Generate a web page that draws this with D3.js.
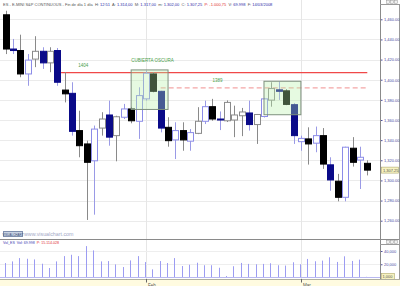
<!DOCTYPE html>
<html>
<head>
<meta charset="utf-8">
<script src="https://cdn.jsdelivr.net/npm/d3@7"></script>
<style>
  html, body { margin: 0; padding: 0; background: #fff; }
  svg { display: block; font-family: "Liberation Sans", Arial, sans-serif; }
</style>
</head>
<body>
<div id="chart"></div>
<script>
// ES daily candles, Jan 7 - Mar 14 2008
const dates = [
  '2008-01-07','2008-01-08','2008-01-09','2008-01-10','2008-01-11','2008-01-14','2008-01-15','2008-01-16','2008-01-17','2008-01-18',
  '2008-01-21','2008-01-22','2008-01-23','2008-01-24','2008-01-25','2008-01-28','2008-01-29','2008-01-30','2008-01-31',
  '2008-02-01','2008-02-04','2008-02-05','2008-02-06','2008-02-07','2008-02-08','2008-02-11','2008-02-12','2008-02-13','2008-02-14','2008-02-15',
  '2008-02-18','2008-02-19','2008-02-20','2008-02-21','2008-02-22','2008-02-25','2008-02-26','2008-02-27','2008-02-28','2008-02-29',
  '2008-03-03','2008-03-04','2008-03-05','2008-03-06','2008-03-07','2008-03-10','2008-03-11','2008-03-12','2008-03-13','2008-03-14'
];
const opens = [1461.5,1427.5,1426,1402.75,1417.5,1425.25,1413.75,1426,1386.75,1383.5,
  1346.5,1333.25,1316.5,1349,1362,1341.5,1359.75,1368,1355.75,1378,
  1402.75,1385.5,1349.75,1337.25,1346.5,1336,1343.75,1355.75,1370.25,1358,
  1356.25,1357,1361.25,1364,1352.5,1360.5,1376.75,1387,1386,1372.25,
  1335.5,1338.25,1334,1341.5,1312.5,1296.25,1280.25,1329,1317.25,1314];
const highs = [1465.5,1437.5,1441.75,1422.5,1440.25,1429.25,1429.25,1428.5,1404.5,1394.5,
  1366.25,1336.5,1351.5,1364.75,1376.25,1361.25,1373,1370,1389.5,1406,
  1404.5,1386,1359.75,1354.75,1354.75,1348,1369.75,1376.25,1378,1365.5,
  1376.5,1371.25,1369,1376.25,1363,1379,1394.5,1395.25,1387.75,1373.75,
  1341.5,1349.75,1350.5,1349,1320,1303.5,1330.5,1340,1330.5,1317];
const lows = [1422.5,1422.5,1399.5,1391,1409.5,1407.75,1404.5,1391,1374.5,1341.5,
  1320,1257.75,1263,1341.5,1331.5,1316,1358,1353.75,1338.25,1376.25,
  1384.5,1344.75,1330.5,1318.25,1326.5,1326.5,1343,1353,1356.25,1347,
  1355,1340,1341,1346.5,1333.25,1359.5,1370.25,1377,1371.75,1333.25,
  1326.5,1312.75,1325,1308.5,1286.75,1276.25,1276.25,1310.75,1288.5,1302];
const closes = [1427.5,1426,1402.75,1416.5,1425.25,1413.75,1425.25,1394.5,1383,1345.75,
  1331.5,1315,1348,1358,1340,1360.25,1368,1356.25,1381.25,1403.5,
  1385.5,1349,1336.5,1346.5,1337.25,1344.5,1355.75,1370.25,1358,1357,
  1374.5,1362,1365,1352.5,1362.5,1378,1388.25,1385.5,1372.5,1341.5,
  1338.75,1333.25,1341.5,1313.25,1297.5,1280.25,1330,1315,1320,1307.25];
// candle colouring as drawn by the platform: k=black, n=navy, g=hollow grey, b=hollow blue
const kinds = ['k','n','k','b','g','n','g','n','k','n',
  'k','k','b','g','n','g','b','k','b','b',
  'k','n','k','b','k','b','g','b','k','n',
  'g','g','g','n','g','b','g','n','k','n',
  'b','k','b','k','n','k','b','k','b','k'];
const volumes = [21800,24300,29300,28300,27300,20800,14300,24300,32300,34300,
  32300,47400,40900,24300,24800,19800,15800,25800,32300,23300,
  12300,24800,21800,29300,17300,19300,22300,18500,18500,14700,
  2200,17000,22000,20500,20000,20500,21500,18500,18000,23000,
  20000,28000,24500,25500,30500,23500,32000,25000,27000,1000];

const priceTicks = [1260,1280,1300,1320,1340,1360,1380,1400,1420,1440,1460];
const volTicks = [20000, 40000];

// horizontal levels (value, from / to candle index, label position)
const levelValues = [1404, 1389];
const levelLabels = ['1404', '1389'];
const levelFrom = [7.5, 21];
const levelTo = [49, 49];
const levelLabelAt = [10.5, 28.7];
const levelDashed = [false, true];

// pattern boxes
const boxNames = ['CUBIERTA OSCURA', ''];
const boxFrom = [17, 35];
const boxTo = [22, 40];
const boxTop = [1406.75, 1395.5];
const boxBottom = [1367.5, 1362.25];

const headerParts = [
  ['ES - E-MINI S&P CONTINUOUS - Fin de día 1 día  H: ', '#555'], ['12:51', '#2a2aa8'],
  ['  A: ', '#555'], ['1.314,00', '#2a2aa8'], ['  M: ', '#555'], ['1.317,00', '#2a2aa8'],
  ['  m: ', '#555'], ['1.302,00', '#2a2aa8'], ['  C: ', '#555'], ['1.307,25', '#2a2aa8'],
  ['  P: -1.000,75', '#e03030'], ['  V: ', '#555'], ['69.998', '#2a2aa8'],
  ['  F: ', '#555'], ['14/03/2008', '#2a2aa8']
];
const volHeaderParts = [['Vol_ES  Vol: ', '#3a3ab0'], ['69.998', '#3a3ab0'], ['  P: 15.114.028', '#e03030']];

const W = 400, H = 286;
const axisX = 380;
const mainBottom = 239.5, volBottom = 277.5, stripTop = 279;

const svg = d3.select('#chart').append('svg').attr('width', W).attr('height', H);
svg.append('rect').attr('width', W).attr('height', H).attr('fill', '#fff');

const parse = d3.timeParse('%Y-%m-%d');
const days = dates.map(parse);

const x = d3.scaleLinear().domain([0, dates.length - 1]).range([5.7, 367.3]);
const y = d3.scaleLinear().domain([1260, 1460]).range([217.7, 16.3]);
const gridShift = 3; // platform draws its grid a few px under the price
const yv = d3.scaleLinear().domain([0, 40000]).range([volBottom, 251]);

// month starts
const monthIdx = [];
days.forEach((d, i) => { if (i > 0 && d.getMonth() !== days[i - 1].getMonth()) monthIdx.push(i); });

// grid
const grid = svg.append('g');
grid.selectAll('line.h').data(priceTicks).join('line')
  .attr('x1', 0).attr('x2', axisX)
  .attr('y1', d => Math.round(y(d) + gridShift) + 0.5).attr('y2', d => Math.round(y(d) + gridShift) + 0.5)
  .attr('stroke', '#ebebeb');
grid.selectAll('line.v').data(monthIdx).join('line')
  .attr('x1', d => Math.round(x(d)) + 0.5).attr('x2', d => Math.round(x(d)) + 0.5)
  .attr('y1', 0).attr('y2', stripTop)
  .attr('stroke', '#e6e6e6');
grid.selectAll('line.vg').data(volTicks).join('line')
  .attr('x1', 0).attr('x2', axisX)
  .attr('y1', d => Math.round(yv(d)) + 0.5).attr('y2', d => Math.round(yv(d)) + 0.5)
  .attr('stroke', '#eeeeee');

// header
const hdr = svg.append('text').attr('x', 3).attr('y', 5.5).attr('font-size', 4);
headerParts.forEach(p => hdr.append('tspan').attr('fill', p[1]).attr('xml:space', 'preserve').text(p[0]));

// levels
const lv = svg.append('g');
levelValues.forEach((v, i) => {
  lv.append('line')
    .attr('x1', x(levelFrom[i])).attr('x2', x(levelTo[i]))
    .attr('y1', y(v)).attr('y2', y(v))
    .attr('stroke', levelDashed[i] ? '#f4a6a6' : '#f04848')
    .attr('stroke-width', 1.3)
    .attr('stroke-dasharray', levelDashed[i] ? '5,3' : null);
  lv.append('text')
    .attr('x', x(levelLabelAt[i])).attr('y', y(v) - 6)
    .attr('text-anchor', 'middle').attr('font-size', 4.5).attr('fill', '#4aa04a')
    .text(levelLabels[i]);
});

// candles
const colors = {
  k: { fill: '#000', stroke: '#000', wick: '#8a8a8a' },
  n: { fill: '#0a0a88', stroke: '#0a0a88', wick: '#9a9ae6' },
  g: { fill: '#fff', stroke: '#8a8a8a', wick: '#8a8a8a' },
  b: { fill: '#fff', stroke: '#8c8ce8', wick: '#9a9ae6' }
};
const bodyW = 6;
const candles = svg.append('g').selectAll('g').data(dates.map((d, i) => i)).join('g');
candles.append('line')
  .attr('x1', i => Math.round(x(i)) + 0.5).attr('x2', i => Math.round(x(i)) + 0.5)
  .attr('y1', i => y(highs[i])).attr('y2', i => y(lows[i]))
  .attr('stroke', i => colors[kinds[i]].wick);
candles.append('rect')
  .attr('x', i => Math.round(x(i)) - bodyW / 2 + 0.5)
  .attr('width', bodyW)
  .attr('y', i => y(Math.max(opens[i], closes[i])))
  .attr('height', i => Math.max(1, Math.abs(y(opens[i]) - y(closes[i]))))
  .attr('fill', i => colors[kinds[i]].fill)
  .attr('stroke', i => colors[kinds[i]].stroke);

// pattern boxes
const bx = svg.append('g');
boxNames.forEach((name, i) => {
  bx.append('rect')
    .attr('x', x(boxFrom[i])).attr('width', x(boxTo[i]) - x(boxFrom[i]))
    .attr('y', y(boxTop[i])).attr('height', y(boxBottom[i]) - y(boxTop[i]))
    .attr('fill', '#b8f0a8').attr('fill-opacity', 0.35)
    .attr('stroke', '#7d8f7d');
  if (name) {
    bx.append('text')
      .attr('x', x(boxFrom[i])).attr('y', y(boxTop[i]) - 7.5)
      .attr('font-size', 4.5).attr('fill', '#4aa04a').text(name);
  }
});

// watermark
svg.append('rect').attr('x', 3.5).attr('y', 231.5).attr('width', 19).attr('height', 5)
  .attr('fill', '#c9d3e3').attr('stroke', '#7f8fae');
svg.append('text').attr('x', 13).attr('y', 235.5).attr('text-anchor', 'middle')
  .attr('font-size', 3).attr('fill', '#3b4b7b').text('VISUALCHART');
svg.append('text').attr('x', 24).attr('y', 236.3).attr('font-size', 5.3)
  .attr('fill', '#a2a8c6').text('www.visualchart.com');

// panel borders
svg.append('line').attr('x1', 0).attr('x2', W).attr('y1', mainBottom).attr('y2', mainBottom).attr('stroke', '#8a8a8a');
svg.append('line').attr('x1', axisX + 0.5).attr('x2', axisX + 0.5).attr('y1', 0).attr('y2', stripTop).attr('stroke', '#8a8a8a');
svg.append('line').attr('x1', W - 0.5).attr('x2', W - 0.5).attr('y1', 4).attr('y2', stripTop).attr('stroke', '#9a9a9a');
svg.append('line').attr('x1', axisX).attr('x2', W).attr('y1', 4.5).attr('y2', 4.5).attr('stroke', '#9a9a9a');
svg.append('line').attr('x1', axisX).attr('x2', W).attr('y1', 244.5).attr('y2', 244.5).attr('stroke', '#9a9a9a');

// little window buttons
[[240], [0]].forEach(([top]) => {
  [388, 392, 396].forEach(bxX => {
    svg.append('rect').attr('x', bxX - 1.5).attr('y', top + 0.5).attr('width', 3).attr('height', 3)
      .attr('fill', '#f0f0f0').attr('stroke', '#999').attr('stroke-width', 0.5);
  });
});

// price axis
const fmtP = d3.format(',.2f');
const pAxis = svg.append('g')
  .attr('transform', `translate(${axisX + 1},${gridShift})`)
  .call(d3.axisRight(y).tickValues(priceTicks).tickSize(1.5).tickPadding(1.5).tickFormat(fmtP));
pAxis.select('.domain').remove();
pAxis.selectAll('line').attr('stroke', '#5050a0');
pAxis.selectAll('text').attr('font-size', 4).attr('fill', '#4848a0').attr('font-family', null);

// last price tag
const last = closes[closes.length - 1];
svg.append('rect').attr('x', axisX + 1.5).attr('y', y(last) - 3).attr('width', 17).attr('height', 6)
  .attr('fill', '#f6f2c0').attr('stroke', '#b0aa70').attr('stroke-width', 0.6);
svg.append('text').attr('x', axisX + 3).attr('y', y(last) + 1.5)
  .attr('font-size', 4).attr('fill', '#555').text(fmtP(last));

// volume
const vh = svg.append('text').attr('x', 3).attr('y', 243.8).attr('font-size', 3.6);
volHeaderParts.forEach(p => vh.append('tspan').attr('fill', p[1]).attr('xml:space', 'preserve').text(p[0]));

svg.append('g').selectAll('line').data(volumes).join('line')
  .attr('x1', (d, i) => Math.round(x(i)) - 0.5).attr('x2', (d, i) => Math.round(x(i)) - 0.5)
  .attr('y1', yv(0)).attr('y2', d => yv(d))
  .attr('stroke', '#9c9cf2').attr('stroke-width', 1);
svg.append('line').attr('x1', 0).attr('x2', axisX).attr('y1', yv(0)).attr('y2', yv(0)).attr('stroke', '#b8b8f0');

const vAxis = svg.append('g')
  .attr('transform', `translate(${axisX + 1},0)`)
  .call(d3.axisRight(yv).tickValues(volTicks).tickSize(1.5).tickPadding(1.5).tickFormat(d3.format(',')));
vAxis.select('.domain').remove();
vAxis.selectAll('line').attr('stroke', '#5050a0');
vAxis.selectAll('text').attr('font-size', 4).attr('fill', '#4848a0').attr('font-family', null);

const lastVol = volumes[volumes.length - 1];
svg.append('rect').attr('x', axisX + 1.5).attr('y', yv(lastVol) - 3.5).attr('width', 13).attr('height', 6)
  .attr('fill', '#f6f2c0').attr('stroke', '#b0aa70').attr('stroke-width', 0.6);
svg.append('text').attr('x', axisX + 2.5).attr('y', yv(lastVol) + 1)
  .attr('font-size', 4).attr('fill', '#555').text(d3.format(',')(lastVol));

// date strip
svg.append('rect').attr('x', 0).attr('y', stripTop).attr('width', W).attr('height', H - stripTop)
  .attr('fill', '#fffbe0');
svg.append('line').attr('x1', 0).attr('x2', W).attr('y1', stripTop + 0.5).attr('y2', stripTop + 0.5).attr('stroke', '#b0b0a0');
const fmtM = d3.timeFormat('%b');
const xt = svg.append('g').selectAll('g').data(monthIdx).join('g')
  .attr('transform', i => `translate(${Math.round(x(i)) + 0.5},${stripTop})`);
xt.append('line').attr('y1', 0).attr('y2', 3.5).attr('stroke', '#666');
xt.append('text').attr('x', 1.5).attr('y', 7.5).attr('font-size', 4.5).attr('fill', '#555')
  .text(i => fmtM(days[i]));
</script>
</body>
</html>
